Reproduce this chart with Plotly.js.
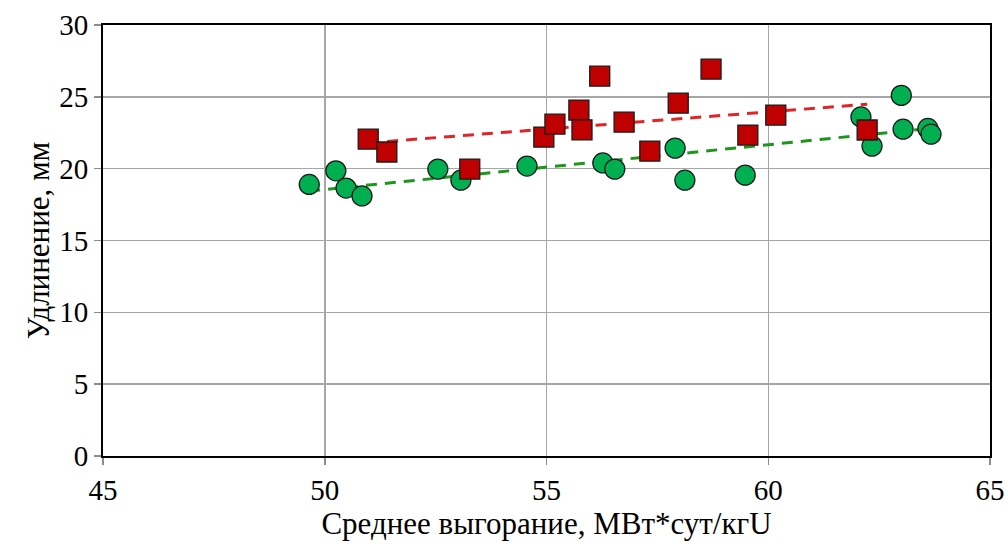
<!DOCTYPE html>
<html><head><meta charset="utf-8">
<script src="https://cdn.plot.ly/plotly-3.0.1.min.js"></script>
<style>html,body{margin:0;padding:0;background:#fff}#chart{width:1008px;height:544px}</style>
</head><body><div id="chart"></div>
<script>
const greenX = [49.65, 50.25, 50.48, 50.84, 52.55, 53.07, 54.56, 56.27, 56.54, 57.90, 58.12, 59.48, 62.09, 62.34, 63.00, 63.04, 63.60, 63.67];
const greenY = [18.9, 19.85, 18.65, 18.1, 19.97, 19.2, 20.18, 20.4, 19.97, 21.43, 19.2, 19.55, 23.6, 21.57, 25.1, 22.75, 22.8, 22.4];
const redX = [50.98, 51.40, 53.27, 54.94, 55.19, 55.73, 55.80, 56.20, 56.75, 57.33, 57.97, 58.71, 59.54, 60.17, 62.23];
const redY = [22.06, 21.16, 19.97, 22.2, 23.1, 24.08, 22.7, 26.44, 23.24, 21.22, 24.56, 26.93, 22.34, 23.73, 22.69];
const xTicks = [45, 50, 55, 60, 65];
const yTicks = [0, 5, 10, 15, 20, 25, 30];

function fit(xs, ys) {
  const n = xs.length;
  const mx = xs.reduce((a,b)=>a+b,0)/n, my = ys.reduce((a,b)=>a+b,0)/n;
  let sxy=0, sxx=0;
  for (let i=0;i<n;i++){ sxy+=(xs[i]-mx)*(ys[i]-my); sxx+=(xs[i]-mx)**2; }
  const b = sxy/sxx, a = my - b*mx;
  const x0 = Math.min(...xs), x1 = Math.max(...xs);
  return {x:[x0,x1], y:[a+b*x0, a+b*x1]};
}
const gf = fit(greenX, greenY), rf = fit(redX, redY);

const fam = '"Liberation Serif", "Times New Roman", serif';
const tickFont = {family: fam, color: '#000', size: 29};
const titleFont = {family: fam, color: '#000', size: 31};
const pad = '\u00a0'.repeat(10);
const data = [
  {x: gf.x, y: gf.y, mode: 'lines', line: {color: '#1e961e', width: 3, dash: '11px,8px'}, hoverinfo: 'skip'},
  {x: rf.x, y: rf.y, mode: 'lines', line: {color: '#e02428', width: 3, dash: '11px,8px'}, hoverinfo: 'skip'},
  {x: greenX, y: greenY, mode: 'markers', marker: {symbol: 'circle', size: 20, color: '#00b050', line: {color: '#1a1a1a', width: 1.3}}},
  {x: redX, y: redY, mode: 'markers', marker: {symbol: 'square', size: 20, color: '#c00000', line: {color: '#1a1a1a', width: 1.3}}}
];
const layout = {
  width: 1008, height: 544,
  margin: {l: 103, r: 18, t: 25, b: 88},
  showlegend: false,
  paper_bgcolor: '#fff', plot_bgcolor: '#fff',
  font: tickFont,
  xaxis: {range: [45, 65], tickvals: xTicks, ticktext: xTicks.map(String),
    showgrid: true, gridcolor: '#a6a6a6', gridwidth: 1.5,
    showline: true, linecolor: '#000', linewidth: 2, mirror: true,
    ticks: 'outside', ticklen: 7, tickcolor: '#8c8c8c', tickwidth: 1.5,
    zeroline: false, tickfont: tickFont,
    title: {text: 'Среднее выгорание, МВт*сут/кгU' + pad, font: titleFont, standoff: 0}},
  yaxis: {range: [0, 30], tickvals: yTicks, ticktext: yTicks.map(String),
    showgrid: true, gridcolor: '#a6a6a6', gridwidth: 1.5,
    showline: true, linecolor: '#000', linewidth: 2, mirror: true,
    ticks: 'outside', ticklen: 7, tickcolor: '#8c8c8c', tickwidth: 1.5,
    zeroline: false, tickfont: tickFont,
    title: {text: 'Удлинение, мм', font: titleFont, standoff: 0}}
};
Plotly.newPlot('chart', data, layout, {displayModeBar: false, staticPlot: true});
</script></body></html>
